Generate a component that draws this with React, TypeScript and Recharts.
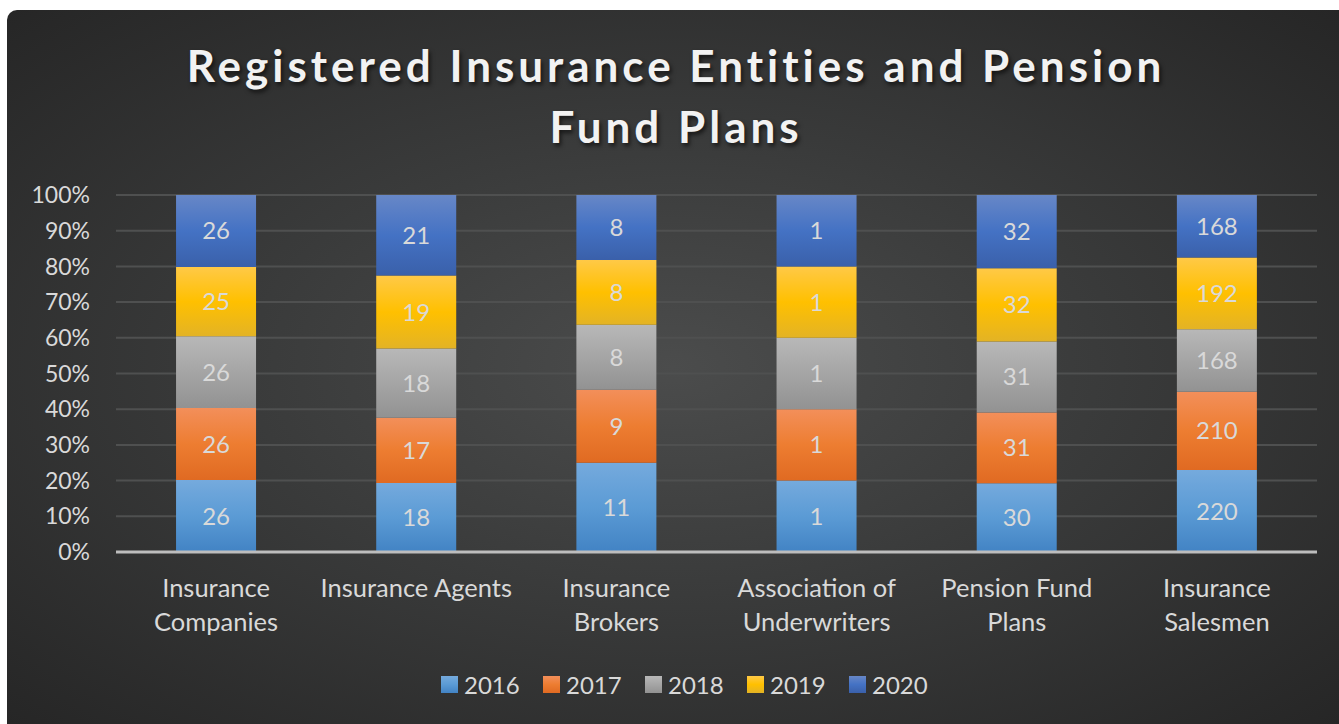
import React from 'react';
import { BarChart, Bar, XAxis, YAxis, CartesianGrid, LabelList } from 'recharts';

const categories = [
  'Insurance Companies',
  'Insurance Agents',
  'Insurance Brokers',
  'Association of Underwriters',
  'Pension Fund Plans',
  'Insurance Salesmen',
];

const categoryLines: string[][] = [
  ['Insurance', 'Companies'],
  ['Insurance Agents'],
  ['Insurance', 'Brokers'],
  ['Association of', 'Underwriters'],
  ['Pension Fund', 'Plans'],
  ['Insurance', 'Salesmen'],
];

const years = ['2016', '2017', '2018', '2019', '2020'];

const values2016 = [26, 18, 11, 1, 30, 220];
const values2017 = [26, 17, 9, 1, 31, 210];
const values2018 = [26, 18, 8, 1, 31, 168];
const values2019 = [25, 19, 8, 1, 32, 192];
const values2020 = [26, 21, 8, 1, 32, 168];

const yTicks = [0, 0.1, 0.2, 0.3, 0.4, 0.5, 0.6, 0.7, 0.8, 0.9, 1];

const seriesValues = [values2016, values2017, values2018, values2019, values2020];

// top / middle / bottom colours of the bar gradients
const gradients = [
  ['#75aadd', '#5b9bd5', '#4283c4'],
  ['#f38f5a', '#ed7d31', '#e06a22'],
  ['#b8b8b8', '#a5a5a5', '#929292'],
  ['#ffc947', '#ffc000', '#e3b325'],
  ['#6787c7', '#4472c4', '#3a60aa'],
];

const data = categories.map((name, i) => {
  const row: any = { name };
  years.forEach((y, s) => {
    row['y' + y] = seriesValues[s][i];
  });
  return row;
});

const font = 'Lato, "Open Sans", sans-serif';

const CategoryTick = (props: any) => {
  const { x, y, payload } = props;
  const lines = categoryLines[payload.index] || [payload.value];
  return (
    <g transform={`translate(${x},${y})`}>
      {lines.map((line, i) => (
        <text
          key={i}
          x={0}
          y={37 + i * 34}
          textAnchor="middle"
          fill="#d9d9d9"
          fontSize={25.5}
          fontFamily={font}
        >
          {line}
        </text>
      ))}
    </g>
  );
};

const App = () => {
  return (
    <div style={{ position: 'fixed', left: 0, top: 0, width: 1339, height: 724, background: '#fff' }}>
      <div
        style={{
          position: 'absolute',
          left: 7,
          top: 10,
          width: 1332,
          height: 714,
          borderTopLeftRadius: 10,
          overflow: 'hidden',
          background: 'radial-gradient(ellipse at 50% 50%, #4b4c4c 0%, #3a3b3b 45%, #262626 100%)',
        }}
      >
        <div
          style={{
            position: 'absolute',
            left: 0,
            top: 25,
            width: 1338,
            textAlign: 'center',
            color: '#f2f2f2',
            fontFamily: font,
            fontWeight: 700,
            fontSize: 44,
            letterSpacing: 4,
            lineHeight: '61px',
            textShadow: '2px 3px 4px rgba(0,0,0,0.6)',
          }}
        >
          Registered Insurance Entities and Pension
          <br />
          Fund Plans
        </div>
        <BarChart
          width={1332}
          height={714}
          data={data}
          stackOffset="expand"
          barCategoryGap="30%"
          margin={{ top: 185, right: 22, bottom: 142, left: 0 }}
          style={{ position: 'absolute', left: 0, top: 0 }}
        >
          <defs>
            {gradients.map((g, i) => (
              <linearGradient key={i} id={'grad' + i} x1="0" y1="0" x2="0" y2="1">
                <stop offset="0%" stopColor={g[0]} />
                <stop offset="50%" stopColor={g[1]} />
                <stop offset="100%" stopColor={g[2]} />
              </linearGradient>
            ))}
          </defs>
          <CartesianGrid vertical={false} stroke="#4f5050" strokeWidth={2} />
          <XAxis
            dataKey="name"
            height={30}
            axisLine={{ stroke: '#bdbdbd', strokeWidth: 3 }}
            tickLine={false}
            interval={0}
            tick={<CategoryTick />}
          />
          <YAxis
            width={109}
            domain={[0, 1]}
            ticks={yTicks}
            tickFormatter={(v: number) => `${Math.round(v * 100)}%`}
            axisLine={false}
            tickLine={false}
            tickSize={0}
            tickMargin={26}
            tick={{ fill: '#d9d9d9', fontSize: 23, fontFamily: font }}
          />
          {years.map((y, i) => (
            <Bar
              key={y}
              dataKey={'y' + y}
              name={y}
              stackId="a"
              fill={`url(#grad${i})`}
              isAnimationActive={false}
            >
              <LabelList
                dataKey={'y' + y}
                position="center"
                fill="#d9d9d9"
                fontSize={24}
                fontFamily={font}
              />
            </Bar>
          ))}
        </BarChart>
        <div
          style={{
            position: 'absolute',
            left: 434,
            top: 660,
            display: 'flex',
            alignItems: 'center',
            fontFamily: font,
            fontSize: 24,
            color: '#d9d9d9',
          }}
        >
          {years.map((y, i) => (
            <div key={y} style={{ display: 'flex', alignItems: 'center', width: 102 }}>
              <div
                style={{
                  width: 17,
                  height: 17,
                  marginRight: 6,
                  background: `linear-gradient(${gradients[i][0]}, ${gradients[i][1]}, ${gradients[i][2]})`,
                }}
              />
              <span>{y}</span>
            </div>
          ))}
        </div>
      </div>
    </div>
  );
};

export default App;
